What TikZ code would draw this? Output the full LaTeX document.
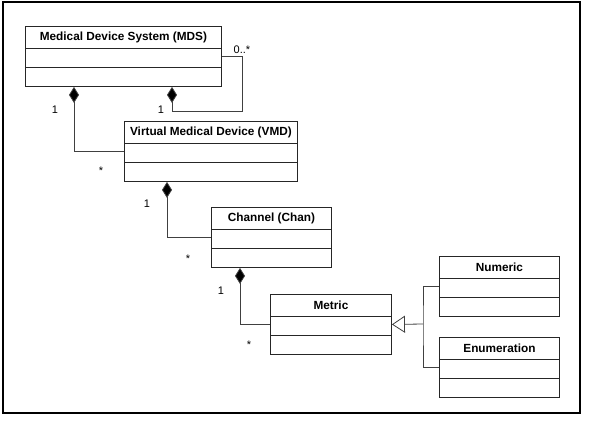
\documentclass[tikz,border=0pt]{standalone}
\usepackage{fontspec}
\setmainfont{Liberation Sans}
\usetikzlibrary{arrows.meta}
\begin{document}
\begin{tikzpicture}[x=1pt,y=-1pt,
  cls/.style={draw=black!85, line width=0.9pt, anchor=north west, inner sep=0pt},
  ttl/.style={font=\fontsize{11.8}{13}\selectfont\bfseries, inner sep=0pt},
  lbl/.style={font=\fontsize{11}{13}\selectfont, inner sep=0pt},
  conn/.style={draw=black!75, line width=0.8pt},
  comp/.style={conn, {Diamond[length=16pt,width=10pt,fill=black]}-},
  gen/.style={conn, -{Triangle[open,length=13pt,width=17pt,fill=white]}},
  sep/.style={draw=black!85, line width=0.9pt}
]
\useasboundingbox (0,0) rectangle (616,421);
\draw[line width=1.3pt] (3,2) rectangle (580,413);

% classes
\node[cls, minimum width=196pt, minimum height=60pt] (mds) at (25,26) {};
\node[cls, minimum width=173pt, minimum height=60pt] (vmd) at (124,121) {};
\node[cls, minimum width=120pt, minimum height=60pt] (chan) at (211,207) {};
\node[cls, minimum width=121pt, minimum height=60pt] (metric) at (270,294) {};
\node[cls, minimum width=120pt, minimum height=60pt] (num) at (439,256) {};
\node[cls, minimum width=120pt, minimum height=60pt] (enum) at (439,337) {};

\foreach \c/\t in {mds/Medical Device System (MDS), vmd/Virtual Medical Device (VMD), chan/Channel (Chan), metric/Metric, num/Numeric, enum/Enumeration}{
  \node[ttl] (\c-t) at ([yshift=-11pt]\c.north) {\t};
  \draw[sep] ([yshift=-22pt]\c.north west) -- ([yshift=-22pt]\c.north east);
  \draw[sep] ([yshift=-41pt]\c.north west) -- ([yshift=-41pt]\c.north east);
}

% compositions
\draw[comp] ([xshift=49pt]mds.south west) |- (vmd.west);
\coordinate (sc) at (242,111);
\draw[comp] ([xshift=147pt]mds.south west) |- (sc) |- (mds.east);
\draw[comp] ([xshift=43pt]vmd.south west) |- (chan.west);
\draw[comp] ([xshift=29pt]chan.south west) |- (metric.west);

% generalization
\coordinate (g) at (423,324);
\draw[gen] (g) -- (metric.east);
\draw[conn] (num.west) -| (g) |- (enum.west);

% multiplicities
\node[lbl] (l1) at (55,110) {1};
\node[lbl] (l2) at (161,110) {1};
\node[lbl] (l3) at (242,50) {0..*};
\node[lbl] (l4) at (101,171) {*};
\node[lbl] (l5) at (147,204) {1};
\node[lbl] (l6) at (188,259) {*};
\node[lbl] (l7) at (221,291) {1};
\node[lbl] (l8) at (249,345) {*};
\end{tikzpicture}
\end{document}
